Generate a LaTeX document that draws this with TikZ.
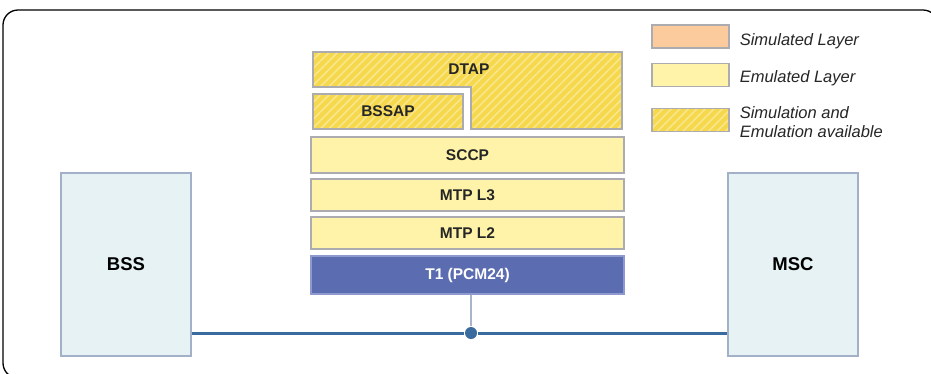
\documentclass[tikz,border=0pt]{standalone}
\usepackage{fontspec}
\setmainfont{Liberation Sans}
\usetikzlibrary{patterns.meta}
\definecolor{cemul}{HTML}{FEF3A8}
\definecolor{csimul}{HTML}{FBCB9E}
\definecolor{chatch}{HTML}{F6D84C}
\definecolor{cstripe}{HTML}{FAE68C}
\definecolor{cedge}{HTML}{ABABB0}
\definecolor{cphys}{HTML}{5B6DB0}
\definecolor{cphysedge}{HTML}{8E9ACD}
\definecolor{cnode}{HTML}{E6F2F3}
\definecolor{cnodeedge}{HTML}{A2B1C8}
\definecolor{cbus}{HTML}{3A6B9F}
\definecolor{cstub}{HTML}{A8B4C8}
\tikzset{
  every picture/.style={line width=1.5pt},
  lbl/.style={font=\fontsize{15.5}{17}\selectfont\bfseries, text=black!85},
  layer/.style={draw=cedge, fill=#1, minimum width=313pt, inner sep=0pt, lbl},
  layer/.default=cemul,
  hatched/.style={draw=cedge, preaction={fill=chatch}, pattern={Lines[angle=45,distance=6pt,line width=1.6pt]}, pattern color=cstripe},
  element/.style={draw=cnodeedge, fill=cnode, minimum width=130pt, minimum height=183pt, font=\fontsize{18.5}{20}\selectfont\bfseries},
  key/.style={draw=cedge, minimum width=77pt, minimum height=23pt, inner sep=0pt},
  keytext/.style={anchor=west, align=left, font=\fontsize{16.5}{19}\selectfont\itshape, text=black!85, inner sep=0pt},
}

\begin{document}
\begin{tikzpicture}[x=1pt, y=-1pt]
  \useasboundingbox (0,0) rectangle (931,373);
  \begin{scope}
    \clip (0,0) rectangle (931,373);
    \draw[rounded corners=15pt, line width=1.3pt] (3,10) rectangle (938,378);
  \end{scope}
  % network elements
  \node[element] (bss) at (126,264.5) {BSS};
  \node[element] (msc) at (793,264.5) {MSC};
  % protocol stack
  \draw[hatched] (313,52) -- (622,52) -- (622,129) -- (471,129) -- (471,87) -- (313,87) -- cycle;
  \node[lbl] (dtap) at (469,69) {DTAP};
  \node[hatched, lbl, minimum width=150pt, minimum height=35pt, inner sep=0pt] (bssap) at (388,111.5) {BSSAP};
  \node[layer, minimum height=36pt] (sccp) at (467.5,155) {SCCP};
  \node[layer, minimum height=32pt] (mtp3) at (467.5,195) {MTP L3};
  \node[layer, minimum height=32pt] (mtp2) at (467.5,233) {MTP L2};
  \node[layer=cphys, draw=cphysedge, text=white, minimum height=38pt] (t1) at (467.5,275) {T1 (PCM24)};
  % link
  \node[circle, fill=cbus, inner sep=0pt, minimum size=12pt] (tap) at (471,333) {};
  \draw[cstub, line width=1.5pt] (t1.south -| tap) -- (tap);
  \draw[cbus, line width=3pt] (bss.east |- tap) -- (tap) -- (msc.west |- tap);
  % legend
  \node[key, fill=csimul] (ksim) at (690.5,36.5) {};
  \node[key, fill=cemul] (kemu) at (690.5,75) {};
  \node[key, hatched] (kboth) at (690.5,120) {};
  \node[keytext] (tsim) at (739,41) {Simulated Layer};
  \node[keytext] (temu) at (739,78) {Emulated Layer};
  \node[keytext] (tboth) at (739,122) {Simulation and\\Emulation available};
\end{tikzpicture}
\end{document}
